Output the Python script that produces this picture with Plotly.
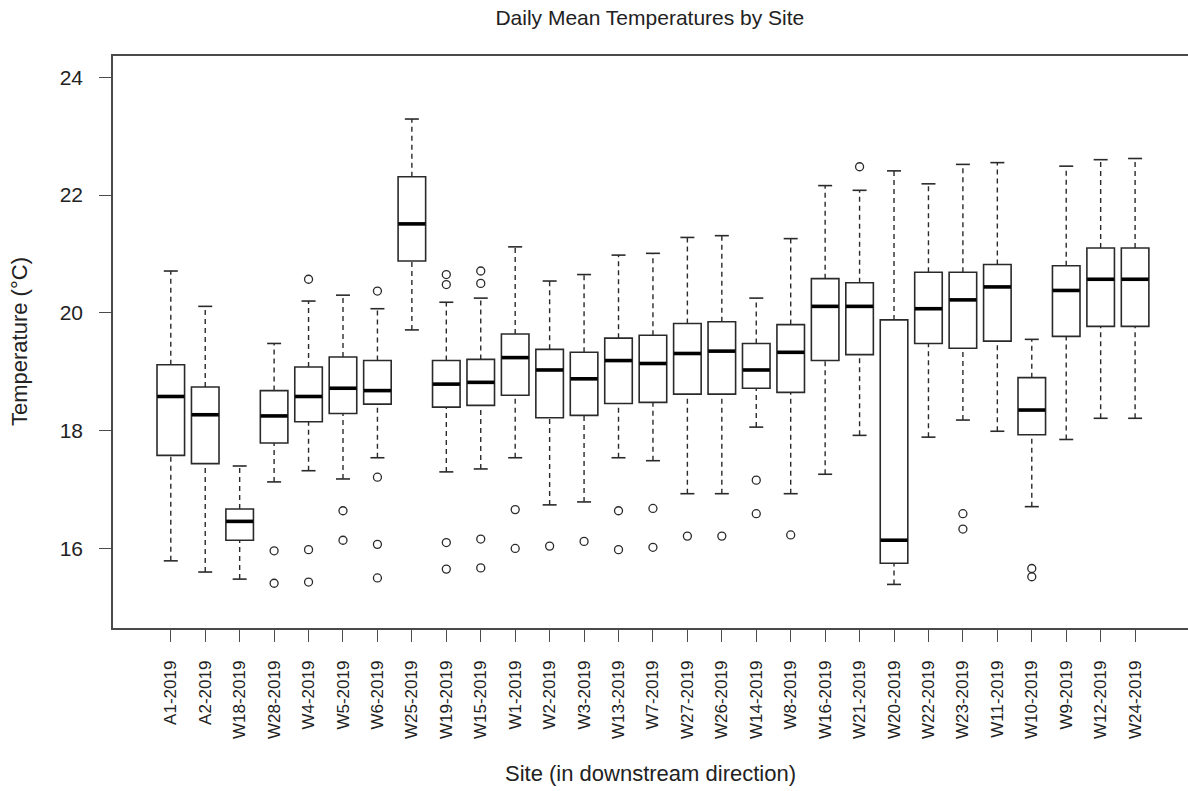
import plotly.graph_objects as go

sites = ["A1-2019", "A2-2019", "W18-2019", "W28-2019", "W4-2019", "W5-2019", "W6-2019",
         "W25-2019", "W19-2019", "W15-2019", "W1-2019", "W2-2019", "W3-2019", "W13-2019",
         "W7-2019", "W27-2019", "W26-2019", "W14-2019", "W8-2019", "W16-2019", "W21-2019",
         "W20-2019", "W22-2019", "W23-2019", "W11-2019", "W10-2019", "W9-2019", "W12-2019",
         "W24-2019"]

lower_whisker = [15.79, 15.60, 15.48, 17.13, 17.32, 17.18, 17.54, 19.71, 17.30, 17.35,
                 17.54, 16.74, 16.79, 17.54, 17.49, 16.93, 16.93, 18.06, 16.93, 17.26,
                 17.92, 15.39, 17.89, 18.18, 17.99, 16.71, 17.85, 18.21, 18.21]
q1 = [17.58, 17.44, 16.14, 17.79, 18.15, 18.29, 18.45, 20.88, 18.40, 18.43,
      18.60, 18.22, 18.26, 18.46, 18.48, 18.62, 18.62, 18.72, 18.65, 19.19,
      19.29, 15.75, 19.48, 19.40, 19.52, 17.93, 19.60, 19.77, 19.77]
median = [18.58, 18.27, 16.46, 18.25, 18.58, 18.72, 18.68, 21.51, 18.79, 18.82,
          19.24, 19.03, 18.88, 19.19, 19.14, 19.31, 19.35, 19.03, 19.33, 20.11,
          20.11, 16.14, 20.07, 20.22, 20.44, 18.35, 20.38, 20.57, 20.57]
q3 = [19.12, 18.74, 16.67, 18.68, 19.08, 19.25, 19.19, 22.31, 19.19, 19.21,
      19.64, 19.38, 19.33, 19.57, 19.62, 19.82, 19.85, 19.48, 19.80, 20.58,
      20.51, 19.88, 20.69, 20.69, 20.82, 18.90, 20.80, 21.10, 21.10]
upper_whisker = [20.71, 20.11, 17.40, 19.48, 20.20, 20.30, 20.07, 23.29, 20.18, 20.25,
                 21.12, 20.54, 20.65, 20.98, 21.01, 21.28, 21.31, 20.25, 21.26, 22.16,
                 22.08, 22.41, 22.19, 22.52, 22.55, 19.55, 22.49, 22.60, 22.62]

outlier_sites = ["W28-2019", "W28-2019",
                 "W4-2019", "W4-2019", "W4-2019",
                 "W5-2019", "W5-2019",
                 "W6-2019", "W6-2019", "W6-2019", "W6-2019",
                 "W19-2019", "W19-2019", "W19-2019", "W19-2019",
                 "W15-2019", "W15-2019", "W15-2019", "W15-2019",
                 "W1-2019", "W1-2019",
                 "W2-2019", "W3-2019",
                 "W13-2019", "W13-2019",
                 "W7-2019", "W7-2019",
                 "W27-2019", "W26-2019",
                 "W14-2019", "W14-2019",
                 "W8-2019", "W21-2019",
                 "W23-2019", "W23-2019",
                 "W10-2019", "W10-2019"]
outlier_values = [15.96, 15.41,
                  20.57, 15.98, 15.43,
                  16.64, 16.14,
                  20.37, 17.21, 16.07, 15.50,
                  20.65, 20.48, 16.10, 15.65,
                  20.71, 20.50, 16.16, 15.67,
                  16.66, 16.00,
                  16.04, 16.12,
                  16.64, 15.98,
                  16.68, 16.02,
                  16.21, 16.21,
                  17.16, 16.59,
                  16.23, 22.48,
                  16.59, 16.33,
                  15.66, 15.52]

y_ticks = [16, 18, 20, 22, 24]

FONT = "Liberation Sans, Arial, sans-serif"
LINE = "#2a2a2a"
AXIS = "#4a4a4a"

fig = go.Figure()

# dashed whiskers
wx, wy = [], []
for s, lo, a, b, hi in zip(sites, lower_whisker, q1, q3, upper_whisker):
    wx += [s, s, None, s, s, None]
    wy += [b, hi, None, lo, a, None]
fig.add_trace(go.Scatter(x=wx, y=wy, mode="lines", connectgaps=False,
                         line=dict(color=LINE, width=1.4, dash="5px,4px"),
                         hoverinfo="skip"))

# whisker caps
fig.add_trace(go.Scatter(x=sites + sites, y=upper_whisker + lower_whisker, mode="markers",
                         marker=dict(symbol="line-ew", size=10,
                                     line=dict(color=LINE, width=1.6)),
                         hoverinfo="skip"))

# boxes (no whiskers)
fig.add_trace(go.Box(x=sites, q1=q1, median=median, q3=q3,
                     lowerfence=q1, upperfence=q3,
                     width=0.8, fillcolor="white",
                     line=dict(color=LINE, width=1.6),
                     boxpoints=False, whiskerwidth=0))

# thick medians
fig.add_trace(go.Scatter(x=sites, y=median, mode="markers",
                         marker=dict(symbol="line-ew", size=19.3,
                                     line=dict(color="black", width=3.6)),
                         hoverinfo="skip"))

# outliers
fig.add_trace(go.Scatter(x=outlier_sites, y=outlier_values, mode="markers",
                         marker=dict(symbol="circle-open", size=8, color=LINE,
                                     line=dict(color=LINE, width=1.3)),
                         hoverinfo="skip"))

fig.update_layout(
    width=1188, height=791,
    margin=dict(l=113, r=0, t=56, b=163),
    paper_bgcolor="white", plot_bgcolor="white",
    showlegend=False,
    font=dict(family=FONT, color="#222"),
    title=dict(text="Daily Mean Temperatures by Site", x=0.547, xanchor="center",
               y=1 - 18 / 791, yanchor="middle", yref="container",
               font=dict(family=FONT, size=21, color="#222")),
    xaxis=dict(type="category", categoryorder="array", categoryarray=sites,
               range=[-1.678, 29.536], showgrid=False, zeroline=False,
               showline=True, mirror=True, linecolor=AXIS, linewidth=1.6,
               ticks="outside", ticklen=12, tickwidth=1.4, tickcolor=AXIS,
               tickangle=-90, tickfont=dict(family=FONT, size=17, color="#222"),
               ticklabelstandoff=12),
    yaxis=dict(range=[14.65, 24.36], tickvals=y_ticks, showgrid=False, zeroline=False,
               showline=True, mirror=False, linecolor=AXIS, linewidth=1.6,
               ticks="outside", ticklen=12, tickwidth=1.4, tickcolor=AXIS,
               tickfont=dict(family=FONT, size=21, color="#222"),
               ticklabelstandoff=12),
    annotations=[
        dict(text="Site (in downstream direction)", xref="paper", yref="paper",
             x=0.50, y=(628 - 773) / 572, xanchor="center", yanchor="middle",
             showarrow=False, font=dict(family=FONT, size=22, color="#222")),
        dict(text="Temperature (°C)", xref="paper", yref="paper",
             x=(19 - 113) / 1075, y=0.5, xanchor="center", yanchor="middle",
             textangle=-90, showarrow=False,
             font=dict(family=FONT, size=22, color="#222")),
    ],
)

fig.write_html("out.html")
